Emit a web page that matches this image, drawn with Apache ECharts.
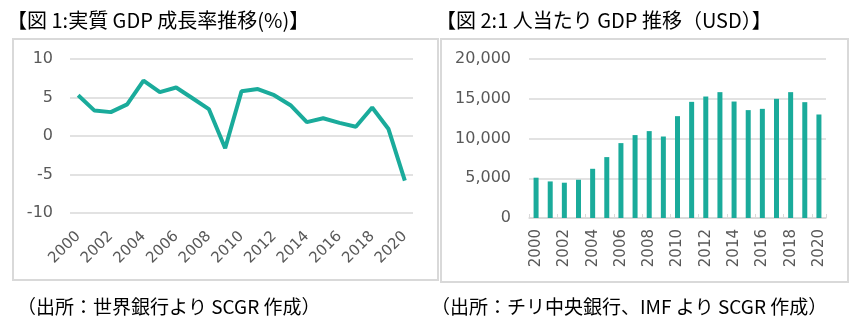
<!DOCTYPE html>
<html>
<head>
<meta charset="utf-8">
<script src="https://cdn.jsdelivr.net/npm/echarts@6/dist/echarts.min.js"></script>
<style>
  html, body { margin: 0; padding: 0; background: #fff; }
  #chart { width: 867px; height: 323px; }
</style>
</head>
<body>
<div id="chart"></div>
<script>
// Years shared by both panels
const years = ['2000','2001','2002','2003','2004','2005','2006','2007','2008','2009','2010',
               '2011','2012','2013','2014','2015','2016','2017','2018','2019','2020'];

// Real GDP growth rate (%)
const growthRate = [5.3, 3.3, 3.1, 4.1, 7.2, 5.7, 6.3, 4.9, 3.5, -1.6, 5.8,
                    6.1, 5.3, 4.0, 1.8, 2.3, 1.7, 1.2, 3.7, 0.9, -5.8];

// GDP per capita (USD)
const gdpPerCapita = [5070, 4600, 4440, 4810, 6190, 7660, 9420, 10430, 10930, 10250, 12810,
                      14610, 15280, 15830, 14650, 13570, 13730, 14990, 15830, 14570, 13020];

// Axis ticks
const growthTicks = [-10, -5, 0, 5, 10];
const usdTicks = [0, 5000, 10000, 15000, 20000];

const titleLeft = '【図 1:実質 GDP 成長率推移(%)】';
const titleRight = '【図 2:1 人当たり GDP 推移（USD）】';
const sourceLeft = '（出所：世界銀行より SCGR 作成）';
const sourceRight = '（出所：チリ中央銀行、IMF より SCGR 作成）';

const teal = '#1aab9b';
const gridColor = '#d9d9d9';
const labelColor = '#595959';
const numFont = 'DejaVu Sans';
const jpFont = 'Noto Sans CJK JP';

const chart = echarts.init(document.getElementById('chart'), null, { renderer: 'canvas' });

const yLabel = {
  color: labelColor, fontFamily: numFont, fontSize: 16, margin: 17
};

chart.setOption({
  animation: false,
  backgroundColor: '#fff',
  textStyle: { fontFamily: numFont },
  title: [
    { text: titleLeft, left: 2, top: 5,
      textStyle: { fontFamily: jpFont, fontSize: 20, fontWeight: 'normal', color: '#000' } },
    { text: titleRight, left: 431, top: 5,
      textStyle: { fontFamily: jpFont, fontSize: 20, fontWeight: 'normal', color: '#000' } },
    { text: sourceLeft, left: 12, top: 292,
      textStyle: { fontFamily: jpFont, fontSize: 19, fontWeight: 'normal', color: '#000' } },
    { text: sourceRight, left: 426, top: 292,
      textStyle: { fontFamily: jpFont, fontSize: 19, fontWeight: 'normal', color: '#000' } }
  ],
  graphic: [
    { type: 'rect', shape: { x: 13, y: 39, width: 425, height: 241 },
      style: { fill: 'none', stroke: gridColor, lineWidth: 2 }, silent: true },
    { type: 'rect', shape: { x: 441, y: 39, width: 407, height: 243 },
      style: { fill: 'none', stroke: gridColor, lineWidth: 2 }, silent: true }
  ],
  grid: [
    { left: 70, top: 59, width: 343, height: 154 },
    { left: 529, top: 59, width: 297, height: 159 }
  ],
  xAxis: [
    {
      gridIndex: 0, type: 'category', data: years, boundaryGap: true,
      axisLine: { show: false }, axisTick: { show: false },
      axisLabel: { interval: 1, rotate: 45, color: labelColor, fontFamily: numFont,
                   fontSize: 15, margin: 21 }
    },
    {
      gridIndex: 1, type: 'category', data: years, boundaryGap: true,
      axisLine: { show: true, lineStyle: { color: gridColor, width: 1.5 } },
      axisTick: { show: true, inside: true, length: 4, lineStyle: { color: gridColor } },
      axisLabel: { interval: 1, rotate: 90, color: labelColor, fontFamily: numFont,
                   fontSize: 15, margin: 11 }
    }
  ],
  yAxis: [
    {
      gridIndex: 0, type: 'value',
      min: growthTicks[0], max: growthTicks[growthTicks.length - 1], interval: 5,
      axisLine: { show: false }, axisTick: { show: false },
      splitLine: { lineStyle: { color: gridColor, width: 1.5 } },
      axisLabel: yLabel
    },
    {
      gridIndex: 1, type: 'value',
      min: usdTicks[0], max: usdTicks[usdTicks.length - 1], interval: 5000,
      axisLine: { show: false }, axisTick: { show: false },
      splitLine: { lineStyle: { color: gridColor, width: 1.5 } },
      axisLabel: Object.assign({}, yLabel, {
        margin: 18,
        formatter: v => v.toLocaleString('en-US')
      })
    }
  ],
  series: [
    {
      type: 'line', xAxisIndex: 0, yAxisIndex: 0, data: growthRate,
      showSymbol: false, lineStyle: { color: teal, width: 4 }, itemStyle: { color: teal }
    },
    {
      type: 'bar', xAxisIndex: 1, yAxisIndex: 1, data: gdpPerCapita,
      barWidth: 5, itemStyle: { color: teal }
    }
  ]
});
</script>
</body>
</html>
